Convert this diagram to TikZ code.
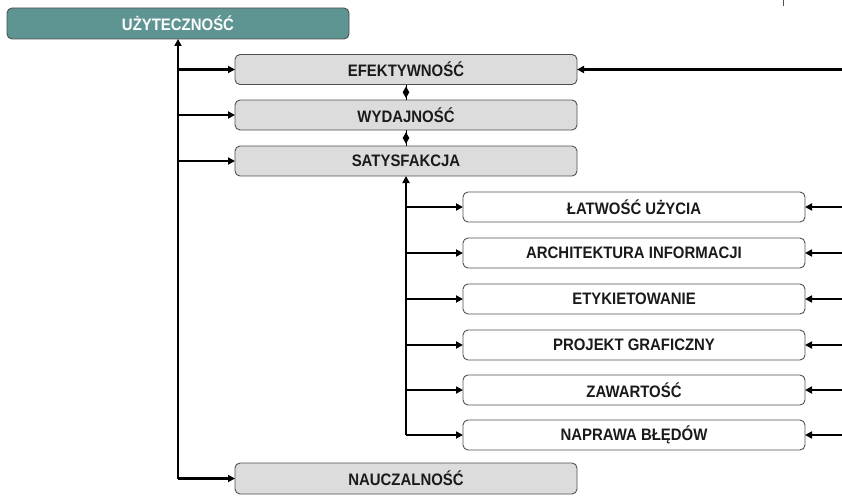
\documentclass[tikz,border=0pt]{standalone}
\usepackage{fontspec}
\setmainfont{Liberation Sans}
\newfontfamily\boxfont[FakeStretch=0.9]{Liberation Sans}
\usetikzlibrary{arrows.meta,shapes.geometric}
\definecolor{tealbox}{HTML}{5E9592}
\definecolor{graybox}{HTML}{DCDCDC}
\definecolor{edge}{HTML}{505050}
\definecolor{ink}{HTML}{1A1A1A}
\tikzset{
  box/.style={draw=edge, line width=0.9pt, rounded corners=5pt, minimum width=342pt, minimum height=30pt, inner sep=0pt, outer sep=0pt, font=\boxfont\bfseries\fontsize{16.6}{19}\selectfont, text=ink},
  topbox/.style={box, fill=tealbox, text=white, minimum height=31pt},
  graybx/.style={box, fill=graybox},
  whitebx/.style={box, fill=white},
  conn/.style={line width=2.6pt, draw=black, -{Triangle[length=7pt,width=7pt]}},
  diam/.style={diamond, fill=black, inner sep=0pt, minimum width=7pt, minimum height=12pt},
}
\begin{document}
\begin{tikzpicture}[x=1pt,y=-1pt]
\useasboundingbox (0,0) rectangle (842,495);
\node[topbox] (top) at (178,23.5) {UŻYTECZNOŚĆ};
\node[graybx] (ef) at (406,69.5) {EFEKTYWNOŚĆ};
\node[graybx] (wy) at (406,115) {WYDAJNOŚĆ};
\node[graybx] (sa) at (406,161) {SATYSFAKCJA};
\node[graybx, minimum height=31pt] (na) at (406,478.5) {NAUCZALNOŚĆ};
\node[whitebx] (lu) at (634,207) {ŁATWOŚĆ UŻYCIA};
\node[whitebx] (ai) at (634,253) {ARCHITEKTURA INFORMACJI};
\node[whitebx] (et) at (634,299) {ETYKIETOWANIE};
\node[whitebx] (pg) at (634,345) {PROJEKT GRAFICZNY};
\node[whitebx] (za) at (634,390) {ZAWARTOŚĆ};
\node[whitebx] (nb) at (634,435) {NAPRAWA BŁĘDÓW};
% diamonds between boxes
\draw[line width=1pt] (ef.south) -- node[diam] (d1) {} (wy.north);
\draw[line width=1pt] (wy.south) -- node[diam] (d2) {} (sa.north);
% left trunk
\coordinate (t1) at (178,478.5);
\draw[conn] (t1) -- (top.south);
\draw[conn] (t1) -- (na.west);
\draw[conn] (top.south |- ef.west) -- (ef.west);
\draw[conn] (top.south |- wy.west) -- (wy.west);
\draw[conn] (top.south |- sa.west) -- (sa.west);
% second trunk
\coordinate (t2) at (406,435);
\draw[conn] (t2) -- (sa.south);
\draw[conn] (t2) -- (nb.west);
\foreach \n in {lu,ai,et,pg,za}{
  \draw[conn] (sa.south |- \n.west) -- (\n.west);
}
% incoming arrows from right edge
\coordinate (r0) at (842,69.5);
\draw[conn] (r0) -- (ef.east);
\foreach \n in {lu,ai,et,pg,za,nb}{
  \coordinate (r\n) at (842,0 |- \n.east);
  \draw[conn] (842,0 |- \n.east) -- (\n.east);
}
% small tick at top right
\coordinate (k1) at (783,0);
\coordinate (k2) at (783,6);
\draw[line width=0.8pt, draw=edge] (k1) -- (k2);
\end{tikzpicture}
\end{document}
